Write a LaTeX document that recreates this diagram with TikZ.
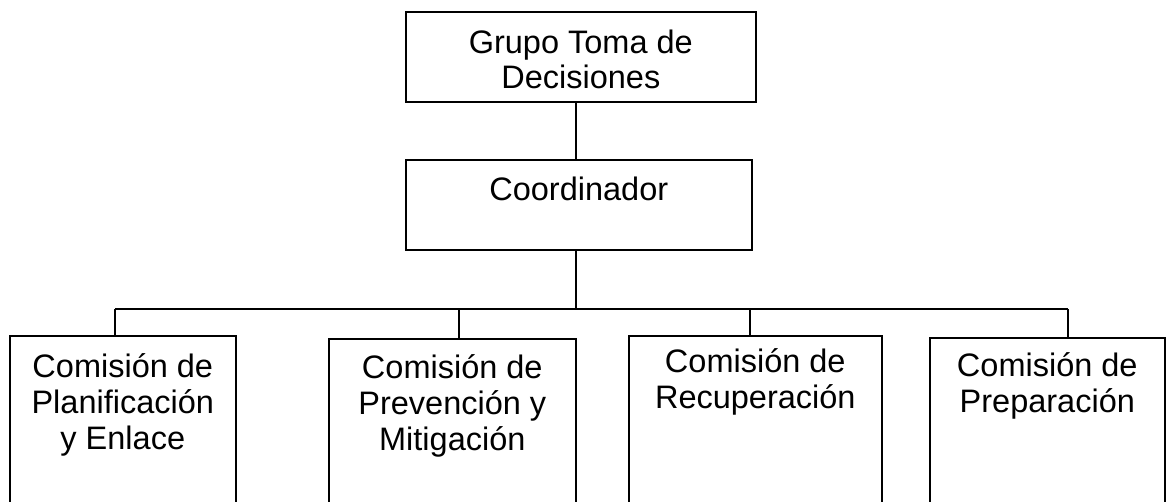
\documentclass[tikz,border=0pt]{standalone}
\usepackage{fontspec}
\setmainfont{Liberation Sans}
\setlength{\tabcolsep}{0pt}
\begin{document}
\begin{tikzpicture}[x=1pt,y=-1pt,
  line width=1.6pt,
  orgbox/.style={draw, line width=1.6pt, inner sep=0pt, anchor=north west},
  wire/.style={draw, line width=1.6pt},
  lbl/.style={font=\fontsize{32.5}{36}\selectfont}]
\useasboundingbox (0,0) rectangle (1166,501);
\clip (0,0) rectangle (1166,501);
\fill[white] (0,0) rectangle (1166,501);
% top levels
\node[orgbox, font=\fontsize{32.5}{34.5}\selectfont, minimum width=350pt, text height=42pt, text depth=48pt] (gtd) at (405,11)
  {\begin{tabular}[t]{c}Grupo Toma de\\Decisiones\end{tabular}};
\node[orgbox, lbl, minimum width=346pt, text height=41pt, text depth=49pt] (coord) at (405,159)
  {\begin{tabular}[t]{c}Coordinador\end{tabular}};
% commissions
\node[orgbox, lbl, minimum width=226pt, text height=42pt, text depth=200pt] (b1) at (9,335)
  {\begin{tabular}[t]{c}Comisión de\\Planificación\\y Enlace\end{tabular}};
\node[orgbox, lbl, minimum width=247pt, text height=40pt, text depth=200pt] (b2) at (328,338)
  {\begin{tabular}[t]{c}Comisión de\\Prevención y\\Mitigación\end{tabular}};
\node[orgbox, lbl, minimum width=253pt, text height=37pt, text depth=200pt] (b3) at (628,335)
  {\begin{tabular}[t]{c}Comisión de\\Recuperación\end{tabular}};
\node[orgbox, lbl, minimum width=235pt, text height=39pt, text depth=200pt] (b4) at (929,337)
  {\begin{tabular}[t]{c}Comisión de\\Preparación\end{tabular}};
% bus coordinates
\coordinate (bus) at (576,309);
\coordinate (j1) at (115,309);
\coordinate (j2) at (459,309);
\coordinate (j3) at (750,309);
\coordinate (j4) at (1068,309);
% connectors
\draw[wire] (gtd.south -| bus) -- (coord.north -| bus);
\draw[wire] (coord.south -| bus) -- (bus);
\draw[wire] (j1) -- (j4);
\draw[wire] (j1) -- (b1.north -| j1);
\draw[wire] (j2) -- (b2.north -| j2);
\draw[wire] (j3) -- (b3.north -| j3);
\draw[wire] (j4) -- (b4.north -| j4);
\end{tikzpicture}
\end{document}
